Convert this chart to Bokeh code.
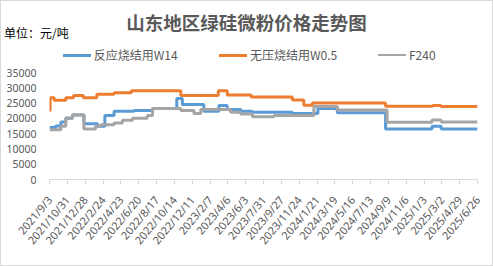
import math
import pandas as pd
from bokeh.plotting import figure
from bokeh.layouts import column
from bokeh.models import Range1d, FixedTicker, ColumnDataSource, Div
from bokeh.embed import file_html
from bokeh.resources import INLINE

# ---------------- data ----------------
title_text = "山东地区绿硅微粉价格走势图"
unit_text = "单位：元/吨"

tick_labels = ["2021/9/3", "2021/10/31", "2021/12/28", "2022/2/24", "2022/4/23",
               "2022/6/20", "2022/8/17", "2022/10/14", "2022/12/11", "2023/2/7",
               "2023/4/6", "2023/6/3", "2023/7/31", "2023/9/27", "2023/11/24",
               "2024/1/21", "2024/3/19", "2024/5/16", "2024/7/13", "2024/9/9",
               "2024/11/6", "2025/1/3", "2025/3/2", "2025/4/29", "2025/6/26"]
y_ticks = [0, 5000, 10000, 15000, 20000, 25000, 30000, 35000]

w14_name = "反应烧结用W14"
w14_dates = ["2021/9/3", "2021/9/23", "2021/10/10", "2021/10/26", "2021/11/17",
             "2021/12/24", "2022/2/6", "2022/3/2", "2022/4/1", "2022/6/5",
             "2022/8/4", "2022/10/22", "2022/11/9", "2023/1/18", "2023/3/8",
             "2023/4/4", "2023/5/18", "2023/6/25", "2023/11/2", "2024/1/24",
             "2024/3/27", "2024/8/31", "2025/1/29", "2025/2/28", "2025/6/26"]
w14_values = [17000, 17500, 18800, 20000, 21100,
              18200, 17400, 20900, 22300, 22600,
              23200, 26500, 24500, 22300, 24200,
              22900, 22300, 22000, 21600, 23200,
              21800, 16500, 17400, 16500, 16500]

w05_name = "无压烧结用W0.5"
w05_dates = ["2021/9/3", "2021/9/5", "2021/9/18", "2021/10/26", "2021/11/20",
             "2021/12/22", "2022/2/4", "2022/4/1", "2022/5/27", "2022/11/4",
             "2023/3/6", "2023/4/4", "2023/6/21", "2023/11/2", "2023/12/9",
             "2024/1/6", "2024/8/31", "2025/1/31", "2025/2/27", "2025/6/26"]
w05_values = [22500, 26700, 25900, 26700, 27500,
              26700, 27900, 28400, 29000, 27500,
              29000, 27600, 27000, 26000, 24300,
              25000, 24000, 24200, 23900, 23900]

f240_name = "F240"
f240_dates = ["2021/9/3", "2021/10/10", "2021/10/26", "2021/11/17", "2021/12/24",
              "2022/1/31", "2022/2/17", "2022/4/1", "2022/4/28", "2022/5/31",
              "2022/7/18", "2022/8/4", "2022/11/4", "2022/12/17", "2023/1/8",
              "2023/4/15", "2023/5/18", "2023/6/25", "2023/9/3", "2024/1/11",
              "2024/3/27", "2024/9/5", "2025/1/29", "2025/2/28", "2025/6/26"]
f240_values = [16300, 17400, 20100, 21200, 16500,
               17400, 17900, 18500, 19400, 20000,
               20900, 23200, 22600, 21600, 22900,
               22000, 21400, 20500, 20900, 23900,
               22700, 18700, 19500, 18800, 18800]

colors = ["#5B9BD5", "#ED7D31", "#A5A5A5"]

# ---------------- helpers ----------------
start = pd.to_datetime(tick_labels[0], format="%Y/%m/%d")


def to_days(dates):
    return [(pd.to_datetime(d, format="%Y/%m/%d") - start).days for d in dates]


tick_pos = to_days(tick_labels)

FONT = "Noto Sans"
CJK = "Noto Sans CJK SC"
TXT = "#595959"

W = 491          # inner width (1px border each side)
HH = 64          # header height
MH = 200         # main chart height

series = [(w14_name, w14_dates, w14_values, colors[0]),
          (w05_name, w05_dates, w05_values, colors[1]),
          (f240_name, f240_dates, f240_values, colors[2])]

# ---------------- header: title, unit, legend ----------------
legend_x = [61.7, 218, 377]       # left edge of each legend sample line
legend_lw = [3, 3, 2]
parts = [
    f'<div style="position:relative;width:{W}px;height:{HH}px;'
    f'font-family:\'{CJK}\';overflow:hidden;background:white;">',
    f'<div style="position:absolute;left:0;top:8.5px;width:{W}px;text-align:center;'
    f'font-size:18.5px;font-weight:bold;line-height:24px;color:{TXT};'
    f'white-space:nowrap;">{title_text}</div>',
    f'<div style="position:absolute;left:3px;top:23.5px;font-size:12px;'
    f'line-height:16px;color:#000;white-space:nowrap;">{unit_text}</div>',
]
for (name, _, _, col), lx, lw in zip(series, legend_x, legend_lw):
    parts.append(f'<div style="position:absolute;left:{lx}px;top:{54 - lw / 2}px;'
                 f'width:28px;height:{lw}px;background:{col};"></div>')
    parts.append(f'<div style="position:absolute;left:{lx + 31}px;top:46px;'
                 f'font-size:12px;line-height:16px;color:{TXT};'
                 f'white-space:nowrap;">{name}</div>')
parts.append('</div>')
header = Div(text="".join(parts), width=W, height=HH, margin=0)

# ---------------- main chart ----------------
p = figure(width=W, height=MH, output_backend="svg", toolbar_location=None,
           x_range=Range1d(tick_pos[0], tick_pos[-1]),
           y_range=Range1d(y_ticks[0], y_ticks[-1]),
           min_border_left=48, min_border_right=15,
           min_border_top=7, min_border_bottom=86,
           background_fill_color="white", border_fill_color="white")
p.outline_line_color = None
p.grid.visible = False

xa = p.xaxis[0]
xa.ticker = FixedTicker(ticks=tick_pos)
xa.major_label_overrides = {t: lab for t, lab in zip(tick_pos, tick_labels)}
xa.major_label_orientation = math.radians(50)
xa.major_label_text_font = FONT
xa.major_label_text_font_size = "11px"
xa.major_label_text_color = TXT
xa.major_label_standoff = 13
xa.axis_line_color = "#D9D9D9"
xa.major_tick_line_color = "#D9D9D9"
xa.major_tick_out = 5
xa.major_tick_in = 0
xa.minor_tick_line_color = None

ya = p.yaxis[0]
ya.ticker = FixedTicker(ticks=y_ticks)
ya.major_label_text_font = FONT
ya.major_label_text_font_size = "10.5px"
ya.major_label_text_color = TXT
ya.major_label_standoff = 7
ya.axis_line_color = None
ya.major_tick_line_color = None
ya.minor_tick_line_color = None

for name, dates, vals, col in series:
    src = ColumnDataSource(dict(x=to_days(dates), y=vals))
    p.step("x", "y", source=src, mode="after", line_color=col, line_width=3)

layout = column(header, p, spacing=0,
                styles={"border": "1px solid #D9D9D9", "background": "white"})

open("out.html", "w").write(file_html(layout, INLINE))
